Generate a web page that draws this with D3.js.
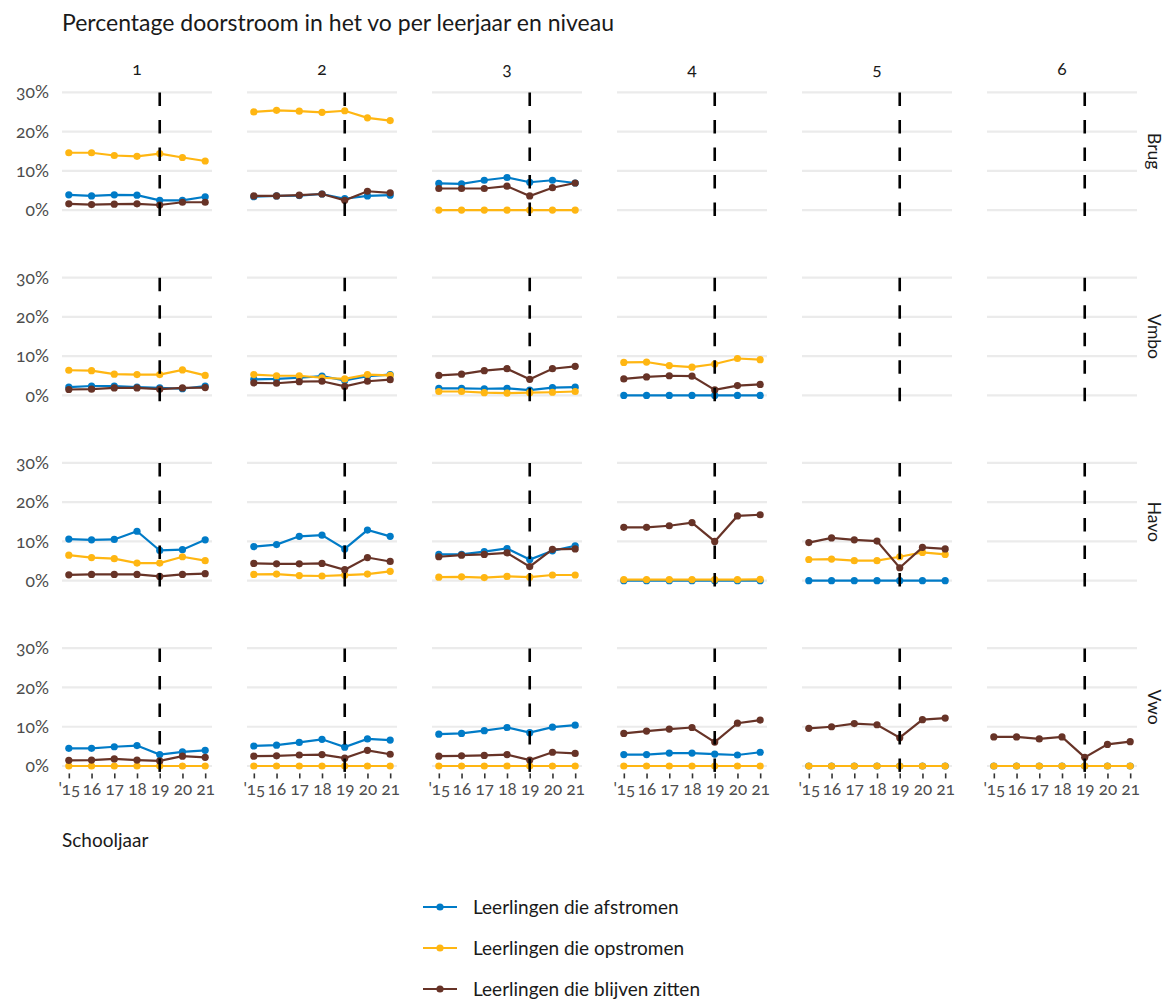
<!DOCTYPE html>
<html><head><meta charset="utf-8">
<script src="https://cdn.jsdelivr.net/npm/d3@7"></script>
<style>
body{margin:0;background:#fff;}
svg{font-family:Lato,"Open Sans",sans-serif;font-feature-settings:"onum";}
</style></head>
<body><svg id="chart" width="1169" height="1001"></svg>
<script>
const years = ["'15","16","17","18","19","20","21"];
const leerjaren = ["1","2","3","4","5","6"];
const niveaus = ["Brug","Vmbo","Havo","Vwo"];
const seriesNames = ["Leerlingen die afstromen","Leerlingen die opstromen","Leerlingen die blijven zitten"];
const yTicks = [0,10,20,30];
const yTickLabels = ["0%","10%","20%","30%"];
const breakYear = "19";
const titleText = "Percentage doorstroom in het vo per leerjaar en niveau";
const xTitle = "Schooljaar";

// values per leerjaar (1..6), null = no data
const brugAfstromen = [[3.9,3.6,3.9,3.8,2.5,2.5,3.4],[3.4,3.6,3.7,4.1,2.9,3.6,3.8],[6.8,6.7,7.6,8.3,7.1,7.6,6.9],null,null,null];
const brugOpstromen = [[14.6,14.6,13.9,13.7,14.4,13.4,12.5],[25.0,25.4,25.2,24.9,25.3,23.5,22.8],[0,0,0,0,0,0,0],null,null,null];
const brugZitten = [[1.6,1.4,1.5,1.6,1.3,2.0,2.0],[3.6,3.6,3.8,4.1,2.5,4.8,4.4],[5.5,5.5,5.5,6.1,3.6,5.7,6.9],null,null,null];

const vmboAfstromen = [[2.1,2.4,2.4,2.1,1.9,1.7,2.4],[4.1,4.2,4.5,4.9,3.8,4.9,5.3],[1.8,1.8,1.7,1.8,1.35,2.0,2.1],[0,0,0,0,0,0,0],null,null];
const vmboOpstromen = [[6.4,6.3,5.4,5.3,5.3,6.5,5.1],[5.3,5.0,5.0,4.5,4.2,5.3,5.1],[1.0,1.0,0.7,0.6,0.7,0.8,1.0],[8.4,8.5,7.6,7.2,8.0,9.4,9.1],null,null];
const vmboZitten = [[1.5,1.6,1.9,1.9,1.6,1.9,2.0],[3.2,3.1,3.5,3.6,2.3,3.6,4.0],[5.1,5.4,6.3,6.8,4.1,6.8,7.4],[4.2,4.7,5.0,4.9,1.4,2.5,2.8],null,null];

const havoAfstromen = [[10.6,10.4,10.5,12.6,7.7,7.9,10.4],[8.7,9.2,11.3,11.6,8.1,12.9,11.3],[6.7,6.7,7.4,8.2,5.4,7.6,8.9],[0,0,0,0,0,0,0],[0,0,0,0,0,0,0],null];
const havoOpstromen = [[6.5,5.9,5.6,4.5,4.5,6.1,5.1],[1.6,1.7,1.3,1.2,1.4,1.7,2.4],[0.9,1.0,0.8,1.1,0.9,1.45,1.45],[0.3,0.3,0.3,0.3,0.3,0.3,0.35],[5.4,5.5,5.1,5.1,6.1,7.2,6.7],null];
const havoZitten = [[1.5,1.6,1.6,1.6,1.1,1.6,1.8],[4.4,4.3,4.3,4.4,2.8,5.9,4.9],[6.1,6.5,6.7,7.1,3.6,8.0,8.1],[13.6,13.6,14.0,14.8,10.0,16.5,16.8],[9.7,10.9,10.4,10.1,3.3,8.5,8.1],null];

const vwoAfstromen = [[4.5,4.5,4.9,5.2,2.9,3.6,4.0],[5.1,5.3,6.0,6.8,4.8,6.9,6.6],[8.1,8.3,9.0,9.8,8.5,9.9,10.4],[2.9,2.9,3.3,3.3,3.05,2.8,3.5],[0,0,0,0,0,0,0],[0,0,0,0,0,0,0]];
const vwoOpstromen = [[0,0,0,0,0,0,0],[0,0,0,0,0,0,0],[0,0,0,0,0,0,0],[0,0,0,0,0,0,0],[0,0,0,0,0,0,0],[0,0,0,0,0,0,0]];
const vwoZitten = [[1.45,1.5,1.8,1.5,1.3,2.5,2.2],[2.5,2.6,2.8,2.9,2.0,4.0,3.0],[2.5,2.6,2.7,2.9,1.5,3.5,3.2],[8.3,8.9,9.4,9.8,6.1,10.9,11.7],[9.6,10.0,10.8,10.5,7.2,11.8,12.2],[7.4,7.4,6.9,7.4,2.2,5.5,6.2]];

const dataByNiveau = {
  Brug: [brugAfstromen, brugOpstromen, brugZitten],
  Vmbo: [vmboAfstromen, vmboOpstromen, vmboZitten],
  Havo: [havoAfstromen, havoOpstromen, havoZitten],
  Vwo: [vwoAfstromen, vwoOpstromen, vwoZitten]
};

// ---------- layout ----------
const colors = ["#007bc7","#ffb612","#673327"];
const svg = d3.select("#chart");
const panelW = 150, panelH = 129.6;
const colX0 = 62, colStep = 185;
const rowY0 = 86.4, rowStep = 185.3;

const x = d3.scalePoint().domain(years).range([0, panelW]).padding(0.3);
const y = d3.scaleLinear().domain([-1.5, 31.5]).range([panelH, 0]);

svg.append("text").attr("x", 62).attr("y", 31).attr("font-size", 23)
  .attr("fill", "#1a1a1a").text(titleText);

niveaus.forEach((niv, r) => {
  leerjaren.forEach((lj, c) => {
    const g = svg.append("g").attr("transform", `translate(${colX0 + c*colStep},${rowY0 + r*rowStep})`);
    g.selectAll("line.grid").data(yTicks).join("line")
      .attr("x1", 0).attr("x2", panelW)
      .attr("y1", d => y(d)).attr("y2", d => y(d))
      .attr("stroke", "#ebebeb").attr("stroke-width", 2.2);
    dataByNiveau[niv].forEach((series, s) => {
      const vals = series[c];
      if (!vals) return;
      const pts = vals.map((v, i) => ({yr: years[i], v}));
      g.append("path").datum(pts)
        .attr("d", d3.line().x(d => x(d.yr)).y(d => y(d.v)))
        .attr("fill", "none").attr("stroke", colors[s]).attr("stroke-width", 2.2);
      g.selectAll(null).data(pts).join("circle")
        .attr("cx", d => x(d.yr)).attr("cy", d => y(d.v)).attr("r", 3.6)
        .attr("fill", colors[s]);
    });
    g.append("line")
      .attr("x1", x(breakYear)).attr("x2", x(breakYear))
      .attr("y1", panelH).attr("y2", 0)
      .attr("stroke", "#000").attr("stroke-width", 2.6)
      .attr("stroke-dasharray", "13.5,14");
    if (c === 0) {
      g.selectAll("text.yl").data(yTicks).join("text")
        .attr("x", -13).attr("y", d => y(d)).attr("dy", "0.35em")
        .attr("text-anchor", "end").attr("font-size", 17.5).attr("fill", "#4d4d4d")
        .text((d, i) => yTickLabels[i]);
    }
    if (r === 0) {
      g.append("text").attr("x", panelW/2).attr("y", -18).attr("dy", "0.35em")
        .attr("text-anchor", "middle").attr("font-size", 17.5).attr("fill", "#1a1a1a").text(lj);
    }
    if (c === leerjaren.length - 1) {
      g.append("text")
        .attr("transform", `translate(${panelW + 17},${panelH/2}) rotate(90)`)
        .attr("text-anchor", "middle").attr("dy", "0.35em")
        .attr("font-size", 17.5).attr("fill", "#1a1a1a").text(niv);
    }
    if (r === niveaus.length - 1) {
      const ax = g.append("g").attr("transform", `translate(0,${panelH + 1.5})`)
        .call(d3.axisBottom(x).tickSize(5).tickPadding(5));
      ax.select(".domain").remove();
      ax.selectAll(".tick line").attr("stroke", "#333").attr("stroke-width", 1.6);
      ax.selectAll(".tick text").attr("font-size", 17).attr("fill", "#4d4d4d")
        .attr("font-family", "Lato, 'Open Sans', sans-serif");
    }
  });
});

svg.append("text").attr("x", 62).attr("y", 840).attr("dy", "0.35em")
  .attr("font-size", 19).attr("fill", "#1a1a1a").text(xTitle);

const legY0 = 907, legStep = 41;
seriesNames.forEach((name, s) => {
  const g = svg.append("g").attr("transform", `translate(423,${legY0 + s*legStep})`);
  g.append("line").attr("x1", 0).attr("x2", 34).attr("y1", 0).attr("y2", 0)
    .attr("stroke", colors[s]).attr("stroke-width", 2.2);
  g.append("circle").attr("cx", 17).attr("cy", 0).attr("r", 3.6).attr("fill", colors[s]);
  g.append("text").attr("x", 50).attr("y", 0).attr("dy", "0.35em")
    .attr("font-size", 19).attr("fill", "#1a1a1a").text(name);
});
</script></body></html>
